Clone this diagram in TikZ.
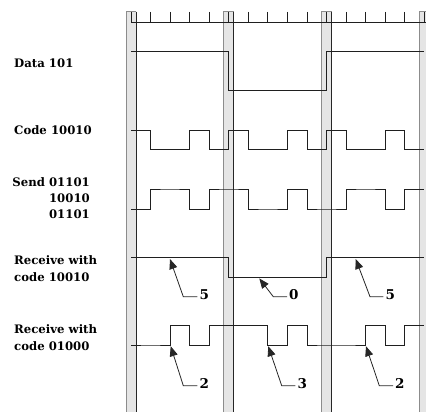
\documentclass[tikz,border=0pt]{standalone}
\usepackage{fontspec}
\setmainfont{DejaVu Serif}
\usetikzlibrary{arrows.meta}
\newcommand\sigwave[4]{% first level, high, low, bits
  \draw[sig] (\xo,#1) \foreach \b [count=\i from 0] in {#4} {
    -- ({\xo+\i*\bw},{\b*#2+(1-\b)*#3}) -- ({\xo+(\i+1)*\bw},{\b*#2+(1-\b)*#3}) };}
\begin{document}
\begin{tikzpicture}[x=1pt,y=-1pt,
  sig/.style={line width=0.9pt, black!88, line join=miter},
  lab/.style={font=\fontsize{11.7}{15.7}\selectfont\bfseries, inner sep=0pt},
  labr/.style={font=\fontsize{11.7}{17.7}\selectfont\bfseries, inner sep=0pt},
  dig/.style={font=\fontsize{13.5}{14}\selectfont\bfseries, inner xsep=2pt, inner ysep=0pt},
  ptr/.style={line width=0.8pt, black!85, -{Triangle[length=10pt,width=8pt]}}]
\useasboundingbox (0,0) rectangle (426,412);
\def\xo{131}\def\bw{19.55}\def\per{97.75}
% grey bars
\foreach \k in {0,...,3}{
  \pgfmathsetmacro\c{\xo+\k*\per}
  \fill[black!10] (\c-5,11.7) rectangle (\c+5,420);
  \draw[black!45,line width=0.8pt] (\c-5,420) -- (\c-5,11.7) -- (\c+5,11.7);
  \draw[black!85,line width=0.8pt] (\c+5,11.7) -- (\c+5,420);
}
% ruler
\draw[sig] (\xo,22.3) -- (426,22.3);
\foreach \i in {0,...,15} \draw[sig] ({\xo+\i*\bw},12) -- ({\xo+\i*\bw},22.3);
% waveforms
\sigwave{51.7}{51.7}{90.7}{1,1,1,1,1,0,0,0,0,0,1,1,1,1,1}
\sigwave{130.7}{130.7}{149.3}{1,0,0,1,0,1,0,0,1,0,1,0,0,1,0}
\sigwave{209}{189}{209}{0,1,1,0,1,1,0,0,1,0,0,1,1,0,1}
\sigwave{257.7}{257.7}{277.3}{1,1,1,1,1,0,0,0,0,0,1,1,1,1,1}
\sigwave{345}{325.7}{345}{0,0,1,0,1,1,1,0,1,0,0,0,1,0,1}
% left labels
\node[lab, anchor=base west] (data) at (14,67.3) {Data 101};
\node[lab, anchor=base west] (code) at (14,135) {Code 10010};
\node[lab, anchor=base east, align=right] (send) at (90,218.1) {Send 01101\\10010\\01101};
\node[labr, anchor=base west, align=left] (rc1) at (14,281.7) {Receive with\\code 10010};
\node[labr, anchor=base west, align=left] (rc2) at (14,350.7) {Receive with\\code 01000};
% pointers, row 4
\coordinate (t1) at (170,259);     \coordinate (b1) at (183.3,296.7);
\coordinate (t2) at (259.3,278.4); \coordinate (b2) at (273.3,296.7);
\coordinate (t3) at (355.7,259);   \coordinate (b3) at (370,296.7);
\node[dig, anchor=base west] (l1) at (197.3,299.3) {5};
\node[dig, anchor=base west] (l2) at (287,299.3) {0};
\node[dig, anchor=base west] (l3) at (383.3,299.3) {5};
\draw[ptr] ([yshift=2.6pt]l1.base west) -- (b1) -- (t1);
\draw[ptr] ([yshift=2.6pt]l2.base west) -- (b2) -- (t2);
\draw[ptr] ([yshift=2.6pt]l3.base west) -- (b3) -- (t3);
% pointers, row 5
\coordinate (u1) at (170.7,346.2); \coordinate (c1) at (183.3,385.7);
\coordinate (u2) at (268.3,346.2); \coordinate (c2) at (281.7,385.7);
\coordinate (u3) at (366,346.2);   \coordinate (c3) at (379.3,385.7);
\node[dig, anchor=base west] (m1) at (197.3,388.3) {2};
\node[dig, anchor=base west] (m2) at (295.3,388.3) {3};
\node[dig, anchor=base west] (m3) at (393,388.3) {2};
\draw[ptr] ([yshift=2.6pt]m1.base west) -- (c1) -- (u1);
\draw[ptr] ([yshift=2.6pt]m2.base west) -- (c2) -- (u2);
\draw[ptr] ([yshift=2.6pt]m3.base west) -- (c3) -- (u3);
\end{tikzpicture}
\end{document}
